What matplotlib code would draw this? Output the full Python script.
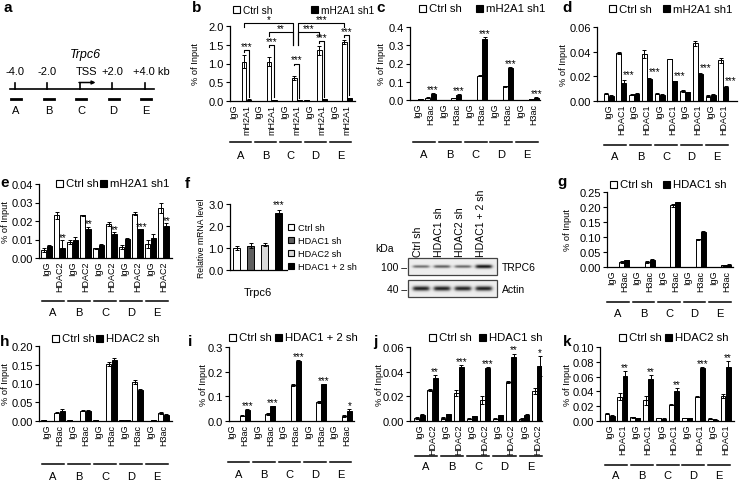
import numpy as np
import matplotlib
matplotlib.use('Agg')
import matplotlib.pyplot as plt
from matplotlib.patches import Rectangle
from matplotlib.ticker import FormatStrFormatter

plt.rcParams['font.family'] = ['Liberation Sans', 'DejaVu Sans']

W, H = 742, 481
fig = plt.figure(figsize=(W / 100, H / 100), dpi=100)

# ---------------- data ----------------
regions = ['A', 'B', 'C', 'D', 'E']

a_kb = [-4.0, -2.0, 0.0, 2.0, 4.0]
a_kb_labels = ['-4.0', '-2.0', 'TSS', '+2.0', '+4.0 kb']

b_labels = ['IgG', 'mH2A1'] * 5
b_ctrl = [0.01, 1.05, 0.01, 1.05, 0.01, 0.62, 0.02, 1.35, 0.01, 1.58]
b_ctrl_err = [0, 0.17, 0, 0.12, 0, 0.06, 0, 0.12, 0, 0.05]
b_sh = [0.01, 0.04, 0.01, 0.03, 0.01, 0.02, 0.01, 0.05, 0.01, 0.07]
b_sh_err = [0, 0.01, 0, 0.01, 0, 0.01, 0, 0.01, 0, 0.02]
b_pair_stars = ['***', '***', '***', '***', '***']
b_pair_bracket = [1.36, 1.50, 1.00, 1.60, 1.76]
b_compare = [(1, 5, '*', 2.08), (3, 5, '**', 1.84), (5, 7, '***', 1.84), (5, 9, '***', 2.08)]

c_labels = ['IgG', 'H3ac'] * 5
c_ctrl = [0.002, 0.012, 0.002, 0.010, 0.002, 0.133, 0.002, 0.075, 0.002, 0.004]
c_ctrl_err = [0, 0.002, 0, 0.001, 0, 0.003, 0, 0.002, 0, 0.001]
c_sh = [0.004, 0.035, 0.002, 0.030, 0.002, 0.335, 0.002, 0.176, 0.002, 0.012]
c_sh_err = [0.001, 0.002, 0, 0.002, 0, 0.008, 0, 0.003, 0, 0.002]
c_stars = ['', '***'] * 5

d_labels = ['IgG', 'HDAC1'] * 5
d_ctrl = [0.006, 0.039, 0.005, 0.038, 0.006, 0.034, 0.008, 0.047, 0.004, 0.033]
d_ctrl_err = [0.0005, 0.001, 0.0003, 0.003, 0.0003, 0.0003, 0.001, 0.002, 0.0005, 0.002]
d_sh = [0.004, 0.015, 0.006, 0.018, 0.005, 0.016, 0.007, 0.022, 0.005, 0.011]
d_sh_err = [0.001, 0.002, 0.0003, 0.001, 0.0003, 0.0005, 0.0003, 0.001, 0.0003, 0.001]
d_stars = ['', '***'] * 5

e_labels = ['IgG', 'HDAC2'] * 5
e_ctrl = [0.0045, 0.023, 0.0085, 0.023, 0.0052, 0.0185, 0.006, 0.024, 0.0075, 0.027]
e_ctrl_err = [0.001, 0.002, 0.001, 0.0005, 0.0003, 0.001, 0.001, 0.0008, 0.002, 0.0025]
e_sh = [0.0065, 0.0055, 0.010, 0.0155, 0.0072, 0.013, 0.0105, 0.0155, 0.011, 0.0175]
e_sh_err = [0.0003, 0.004, 0.0015, 0.0015, 0.0005, 0.001, 0.0003, 0.0003, 0.002, 0.0015]
e_stars = ['', '**', '', '**', '', '**', '', '***', '', '**']

f_groups = ['Ctrl sh', 'HDAC1 sh', 'HDAC2 sh', 'HDAC1 + 2 sh']
f_values = [1.0, 1.1, 1.15, 2.6]
f_err = [0.1, 0.12, 0.08, 0.15]
f_stars = ['', '', '', '***']
f_colors = ['white', '#5f5f5f', '#d9d9d9', 'black']

blot_lanes = ['Ctrl sh', 'HDAC1 sh', 'HDAC2 sh', 'HDAC1 + 2 sh']
blot_trpc6 = [0.55, 0.62, 0.58, 0.95]
blot_actin = [0.9, 0.9, 0.88, 0.9]

g_labels = ['IgG', 'H3ac'] * 5
g_ctrl = [0.001, 0.017, 0.001, 0.017, 0.001, 0.205, 0.001, 0.093, 0.001, 0.006]
g_ctrl_err = [0, 0.002, 0, 0.002, 0, 0.005, 0, 0.002, 0, 0.001]
g_sh = [0.001, 0.022, 0.001, 0.025, 0.001, 0.215, 0.001, 0.118, 0.001, 0.008]
g_sh_err = [0, 0.001, 0, 0.001, 0, 0.003, 0, 0.001, 0, 0.001]

h_labels = ['IgG', 'H3ac'] * 5
h_ctrl = [0.003, 0.022, 0.002, 0.028, 0.002, 0.152, 0.003, 0.105, 0.001, 0.021]
h_ctrl_err = [0, 0.001, 0, 0.001, 0, 0.005, 0, 0.005, 0, 0.002]
h_sh = [0.001, 0.028, 0.001, 0.028, 0.001, 0.162, 0.002, 0.083, 0.002, 0.017]
h_sh_err = [0, 0.005, 0, 0.002, 0, 0.005, 0, 0.003, 0, 0.001]

i_labels = ['IgG', 'H3ac'] * 5
i_ctrl = [0.001, 0.022, 0.002, 0.030, 0.002, 0.146, 0.002, 0.077, 0.002, 0.019]
i_ctrl_err = [0, 0.003, 0, 0.004, 0, 0.005, 0, 0.005, 0, 0.004]
i_sh = [0.001, 0.045, 0.002, 0.059, 0.002, 0.244, 0.002, 0.149, 0.002, 0.042]
i_sh_err = [0, 0.002, 0, 0.003, 0, 0.004, 0, 0.002, 0, 0.008]
i_stars = ['', '***', '', '***', '', '***', '', '***', '', '*']

j_labels = ['IgG', 'HDAC2'] * 5
j_ctrl = [0.0025, 0.025, 0.0025, 0.0225, 0.002, 0.017, 0.002, 0.0315, 0.0015, 0.024]
j_ctrl_err = [0.0005, 0.0008, 0.0005, 0.0025, 0.0003, 0.003, 0.0003, 0.001, 0.0007, 0.0025]
j_sh = [0.005, 0.035, 0.0055, 0.0435, 0.004, 0.043, 0.0047, 0.0517, 0.005, 0.0448]
j_sh_err = [0.0003, 0.002, 0.0003, 0.002, 0.0003, 0.001, 0.0005, 0.003, 0.0005, 0.008]
j_stars = ['', '**', '', '***', '', '***', '', '**', '', '*']

k_labels = ['IgG', 'HDAC1'] * 5
k_ctrl = [0.010, 0.033, 0.005, 0.028, 0.004, 0.022, 0.004, 0.033, 0.003, 0.034]
k_ctrl_err = [0.001, 0.005, 0.0005, 0.006, 0.0005, 0.001, 0.0005, 0.0005, 0.0005, 0.003]
k_sh = [0.007, 0.061, 0.004, 0.057, 0.003, 0.041, 0.004, 0.071, 0.002, 0.073]
k_sh_err = [0.0005, 0.006, 0.0005, 0.005, 0.0005, 0.004, 0.0005, 0.002, 0.0005, 0.008]
k_stars = ['', '**', '', '**', '', '**', '', '***', '', '**']

# ---------------- helpers ----------------
ov = fig.add_axes([0, 0, 1, 1])
ov.set_xlim(0, W)
ov.set_ylim(H, 0)
ov.axis('off')


def px_axes(x0, y0, x1, y1):
    return fig.add_axes([x0 / W, 1 - y1 / H, (x1 - x0) / W, (y1 - y0) / H])


def style_axes(ax, ytick_fs=8):
    for s in ['top', 'right']:
        ax.spines[s].set_visible(False)
    for s in ['left', 'bottom']:
        ax.spines[s].set_linewidth(0.9)
    ax.tick_params(axis='y', direction='out', length=3, width=0.8, labelsize=ytick_fs, pad=1.5)
    ax.tick_params(axis='x', length=0, pad=2)
    ax.patch.set_alpha(0)


def legend_item(x, y, fc, label, size=7, fs=8.2, gap=3):
    ov.add_patch(Rectangle((x, y - size / 2), size, size, facecolor=fc,
                           edgecolor='black', lw=0.8))
    ov.text(x + size + gap, y + 0.5, label, ha='left', va='center', fontsize=fs)


def letter(x, y, s):
    ov.text(x, y, s, fontsize=11, fontweight='bold', ha='left', va='center')


def chip(box, xlim, ytop, ystep, fmt, labels, ctrl, ctrl_err, sh, sh_err, stars,
         ylab_x, line_y, lab_y, star_dx=0, star_dy=1, ytick_fs=8):
    x0, y0, x1, y1 = box
    ax = px_axes(*box)
    pos = np.arange(len(labels))
    bw = 0.38
    ax.bar(pos - 0.2, ctrl, bw, color='white', edgecolor='black', lw=0.7, zorder=2)
    ax.bar(pos + 0.2, sh, bw, color='black', edgecolor='black', lw=0.7, zorder=2)
    ax.errorbar(pos - 0.2, ctrl, yerr=ctrl_err, fmt='none', ecolor='black',
                elinewidth=0.7, capsize=1.3, capthick=0.7, zorder=3)
    ax.errorbar(pos + 0.2, sh, yerr=sh_err, fmt='none', ecolor='black',
                elinewidth=0.7, capsize=1.3, capthick=0.7, zorder=3)
    ax.set_xlim(*xlim)
    ax.set_ylim(0, ytop)
    ax.set_yticks(np.arange(0, ytop + ystep / 2, ystep))
    ax.yaxis.set_major_formatter(FormatStrFormatter(fmt))
    ax.set_xticks(pos)
    ax.set_xticklabels(labels, rotation=90, fontsize=6.5)
    style_axes(ax, ytick_fs)
    ax.set_ylabel('% of Input', fontsize=6.7, va='center')
    ax.yaxis.set_label_coords((ylab_x - x0) / (x1 - x0), 0.5)
    hpx = y1 - y0
    fl = (y1 - line_y) / hpx
    fg = (y1 - lab_y) / hpx
    tr = ax.get_xaxis_transform()
    for kk, r in enumerate(regions):
        ax.plot([2 * kk - 0.35, 2 * kk + 1.35], [fl, fl], transform=tr, color='black',
                lw=1.1, clip_on=False)
        ax.text(2 * kk + 0.5, fg, r, transform=tr, ha='center', va='center', fontsize=8)
    for p, s, v, e in zip(pos, stars, sh, sh_err):
        if s:
            ax.annotate(s, xy=(p + 0.2, v + e), xytext=(star_dx, star_dy),
                        textcoords='offset pixels', ha='center', va='baseline',
                        fontsize=7, annotation_clip=False)
    return ax


# ---------------- panel a ----------------
letter(3, 8, 'a')


def kbx(kb):
    return 79.6 + kb * 16.25


ov.plot([kbx(-4.3), kbx(4.55)], [90, 90], color='black', lw=1.2)
for kb, lab in zip(a_kb, a_kb_labels):
    if kb != 0:
        ov.plot([kbx(kb), kbx(kb)], [90, 83.5], color='black', lw=1.2)
    if lab.endswith('kb'):
        ov.text(kbx(kb) - 12, 72, lab, ha='left', va='center', fontsize=8)
    elif lab == 'TSS':
        ov.text(kbx(kb) + 7, 72, lab, ha='center', va='center', fontsize=8)
    else:
        ov.text(kbx(kb), 72, lab, ha='center', va='center', fontsize=8)
ov.plot([kbx(0), kbx(0)], [90, 83.5], color='black', lw=1.2)
ov.annotate('', xy=(kbx(0) + 16, 83.5), xytext=(kbx(0) - 0.6, 83.5),
            arrowprops=dict(arrowstyle='-|>', lw=1.1, color='black',
                            mutation_scale=5, shrinkA=0, shrinkB=0))
ov.text(kbx(0) + 6, 55, 'Trpc6', ha='center', va='center', fontsize=9, style='italic')
for kb, r in zip(a_kb, regions):
    xc = kbx(kb) + 1.5
    ov.plot([xc - 5, xc + 5], [100, 100], color='black', lw=2)
    ov.text(xc, 110.5, r, ha='center', va='center', fontsize=8)

# ---------------- panel b ----------------
letter(192, 8, 'b')
legend_item(233, 10, 'white', 'Ctrl sh', fs=7.3)
legend_item(311, 10, 'black', 'mH2A1 sh1', fs=7.3)
axb = chip((230, 27, 355, 102), (-0.32, 9.65), 2.0, 0.5, '%.1f', b_labels,
           b_ctrl, b_ctrl_err, b_sh, b_sh_err, [''] * 10, 196, 143, 156)


def bracket(ax, xa, xb, y, ya, yb, text):
    ax.plot([xa, xa, xb, xb], [ya, y, y, yb], color='black', lw=0.8, clip_on=False)
    if text:
        ax.annotate(text, xy=((xa + xb) / 2, y), xytext=(0, 1), textcoords='offset pixels',
                    ha='center', va='baseline', fontsize=7, annotation_clip=False)


for kk in range(5):
    t = 2 * kk + 1
    bracket(axb, t - 0.2, t + 0.2, b_pair_bracket[kk], b_pair_bracket[kk] - 0.05,
            b_sh[t] + b_sh_err[t] + 0.06, b_pair_stars[kk])
for ia, ib, s, yy in b_compare:
    xa = ia - 0.2 if ia != 5 else 5.1
    xb = ib - 0.2 if ib != 5 else 4.7
    ya = 1.5 if ia == 5 else yy - 0.1
    yb = 1.5 if ib == 5 else yy - 0.1
    bracket(axb, xa, xb, yy, ya, yb, s)

# ---------------- panel c ----------------
letter(376, 8.5, 'c')
legend_item(419, 9, 'white', 'Ctrl sh')
legend_item(476, 9, 'black', 'mH2A1 sh1')
chip((410, 28, 540, 101), (-0.59, 9.49), 0.4, 0.1, '%.1f', c_labels,
     c_ctrl, c_ctrl_err, c_sh, c_sh_err, c_stars, 382, 143, 155)

# ---------------- panel d ----------------
letter(562, 8, 'd')
legend_item(609, 9.5, 'white', 'Ctrl sh')
legend_item(663, 9.5, 'black', 'mH2A1 sh1')
chip((597, 28, 737, 102), (-0.91, 10.07), 0.06, 0.02, '%.2f', d_labels,
     d_ctrl, d_ctrl_err, d_sh, d_sh_err, d_stars, 563, 146, 157, star_dx=5, star_dy=3)

# ---------------- panel e ----------------
letter(0, 183, 'e')
legend_item(56, 184, 'white', 'Ctrl sh')
legend_item(100, 184, 'black', 'mH2A1 sh1')
chip((39, 185, 172, 259), (-0.58, 9.65), 0.04, 0.01, '%.2f', e_labels,
     e_ctrl, e_ctrl_err, e_sh, e_sh_err, e_stars, 5, 302, 313, star_dx=1, star_dy=0)

# ---------------- panel f ----------------
letter(185, 184, 'f')
axf = px_axes(230, 205, 287, 271)
fpos = np.arange(len(f_values))
axf.bar(fpos, f_values, 0.5, color=f_colors, edgecolor='black', lw=0.7, zorder=2)
axf.errorbar(fpos, f_values, yerr=f_err, fmt='none', ecolor='black', elinewidth=0.7,
             capsize=1.5, capthick=0.7, zorder=3)
for p, s, v, e in zip(fpos, f_stars, f_values, f_err):
    if s:
        axf.annotate(s, xy=(p, v + e), xytext=(0, 2), textcoords='offset pixels',
                     ha='center', va='baseline', fontsize=7, annotation_clip=False)
axf.set_xlim(-0.47, 3.6)
axf.set_ylim(0, 3.0)
axf.set_yticks([0, 1, 2, 3])
axf.yaxis.set_major_formatter(FormatStrFormatter('%.1f'))
axf.set_xticks([1.5])
axf.set_xticklabels(['Trpc6'], fontsize=8)
style_axes(axf)
axf.tick_params(axis='x', pad=12)
axf.set_ylabel('Relative mRNA level', fontsize=6.2, va='center')
axf.yaxis.set_label_coords((202 - 230) / 57, 0.5)
for yy, fc, lab in zip([228, 241, 254, 267], f_colors, f_groups):
    legend_item(288, yy, fc, lab, size=6, fs=6.6, gap=4)

# ---------------- western blot ----------------
lane_x = [421 + 21 * n for n in range(4)]
ov.text(385, 249, 'kDa', ha='center', va='center', fontsize=7.5)
ov.text(407, 268, '100 \u2013', ha='right', va='center', fontsize=7.5)
ov.text(407, 290, '40 \u2013', ha='right', va='center', fontsize=7.5)
for lx, lab in zip(lane_x, blot_lanes):
    ov.text(lx - 3, 257, lab, rotation=90, rotation_mode='anchor', ha='left',
            va='center', fontsize=7.6)


def blot_box(y0, y1, yc, intens, base_s):
    xs = np.linspace(408, 497, 180)
    ys = np.linspace(y0, y1, 40)
    X, Y = np.meshgrid(xs, ys)
    img = np.full(X.shape, 0.93)
    for lx, v in zip(lane_x, intens):
        hprof = 1 / (1 + np.exp((np.abs(X - lx) - 8) / 1.0))
        s = base_s * (0.6 + 0.8 * v)
        vprof = np.exp(-((Y - yc) / s) ** 2)
        img -= 0.9 * v * hprof * vprof
    img = np.clip(img, 0, 1)
    ov.imshow(img, cmap='gray', vmin=0, vmax=1, extent=(408, 497, y1, y0),
              origin='upper', aspect='auto', interpolation='bilinear', zorder=1)
    ov.add_patch(Rectangle((408, y0), 89, y1 - y0, facecolor='none', edgecolor='#444444',
                           lw=0.9, zorder=2))


blot_box(259, 276, 267.5, blot_trpc6, 1.4)
blot_box(281, 298, 289.5, blot_actin, 1.8)
ov.text(502, 268, 'TRPC6', ha='left', va='center', fontsize=7.5)
ov.text(502, 290, 'Actin', ha='left', va='center', fontsize=7.5)
ov.set_xlim(0, W)
ov.set_ylim(H, 0)

# ---------------- panel g ----------------
letter(557, 182, 'g')
legend_item(610, 185, 'white', 'Ctrl sh')
legend_item(663, 185, 'black', 'HDAC1 sh')
chip((607, 193, 733, 268), (-0.36, 9.52), 0.25, 0.05, '%.2f', g_labels,
     g_ctrl, g_ctrl_err, g_sh, g_sh_err, [''] * 10, 568, 303, 314)

# ---------------- panel h ----------------
letter(0, 342, 'h')
legend_item(52, 339, 'white', 'Ctrl sh')
legend_item(96, 339, 'black', 'HDAC2 sh')
chip((39, 347, 172, 422), (-0.58, 9.65), 0.20, 0.05, '%.2f', h_labels,
     h_ctrl, h_ctrl_err, h_sh, h_sh_err, [''] * 10, 5, 465, 477)

# ---------------- panel i ----------------
letter(188, 342, 'i')
legend_item(229, 338, 'white', 'Ctrl sh')
legend_item(275, 338, 'black', 'HDAC1 + 2 sh')
chip((229, 348, 354, 422), (-0.24, 9.56), 0.3, 0.1, '%.1f', i_labels,
     i_ctrl, i_ctrl_err, i_sh, i_sh_err, i_stars, 204, 463, 475)

# ---------------- panel j ----------------
letter(373, 342, 'j')
legend_item(429, 338, 'white', 'Ctrl sh')
legend_item(479, 338, 'black', 'HDAC1 sh')
chip((410, 348, 542, 422), (-0.72, 9.36), 0.06, 0.02, '%.2f', j_labels,
     j_ctrl, j_ctrl_err, j_sh, j_sh_err, j_stars, 379, 457, 467)

# ---------------- panel k ----------------
letter(563, 342, 'k')
legend_item(619, 338, 'white', 'Ctrl sh')
legend_item(665, 338, 'black', 'HDAC2 sh')
chip((600, 348, 734, 422), (-0.74, 9.65), 0.10, 0.02, '%.2f', k_labels,
     k_ctrl, k_ctrl_err, k_sh, k_sh_err, k_stars, 567, 466, 476)

fig.savefig('out.png', dpi=100)
